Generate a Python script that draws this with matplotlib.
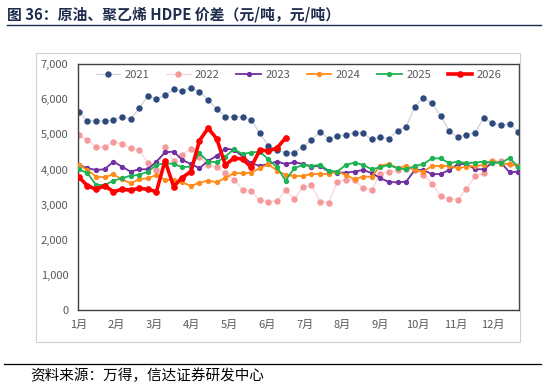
import numpy as np
import matplotlib.pyplot as plt
from matplotlib.lines import Line2D
from matplotlib.ticker import FuncFormatter

plt.rcParams['font.family'] = ['Noto Sans CJK SC', 'DejaVu Sans']

# weekly spread values, yuan/ton (52 weeks)
y2021 = [5640, 5375, 5390, 5375, 5410, 5505, 5430, 5745, 6095, 6010,
         6110, 6290, 6225, 6330, 6215, 5980, 5725, 5505, 5505, 5505,
         5410, 5035, 4680, 4550, 4485, 4485, 4650, 4835, 5070, 4880,
         4945, 4985, 5050, 5035, 4860, 4920, 4880, 5110, 5220, 5790,
         6045, 5885, 5525, 5100, 4920, 4995, 5050, 5470, 5325, 5260,
         5300, 5070]
y2022 = [4975, 4840, 4650, 4635, 4790, 4735, 4605, 4560, 4200, 3990,
         4655, 4250, 4420, 4600, 4350, 4120, 4080, 3900, 3710, 3430,
         3395, 3125, 3090, 3110, 3420, 3170, 3500, 3550, 3090, 3065,
         3660, 3710, 3710, 3470, 3420, 3890, 3940, 3980, 4020, 3990,
         3860, 3600, 3250, 3180, 3140, 3460, 3810, 3900, 4250, 4250,
         4150, 4100]
y2023 = [4134, 4039, 3991, 4011, 4228, 4086, 3944, 4011, 4011, 4228,
         4490, 4512, 4276, 4160, 4040, 4250, 4390, 4600, 4560, 4380,
         4181, 4105, 4162, 4228, 4162, 4209, 4162, 4086, 4105, 3944,
         3915, 3915, 3944, 3991, 3900, 3760, 3645, 3640, 3660, 3990,
         3990, 3870, 3877, 3990, 4160, 4160, 4011, 4011, 4200, 4200,
         3925, 3944]
y2024 = [4134, 3991, 3802, 3783, 3868, 3726, 3612, 3726, 3755, 3849,
         3710, 3707, 3640, 3535, 3630, 3690, 3640, 3760, 3900, 3900,
         3915, 4039, 4153, 3972, 3849, 3820, 3820, 3877, 3877, 3877,
         3944, 3849, 3726, 3802, 3800, 4115, 4160, 4040, 4110, 3990,
         3944, 4105, 4105, 4105, 4039, 4086, 4105, 4134, 4257, 4162,
         4162, 4105]
y2025 = [4011, 3897, 3565, 3565, 3688, 3755, 3830, 3849, 3944, 4134,
         4180, 4162, 4070, 4086, 4465, 4230, 4210, 4370, 4580, 4445,
         4484, 4512, 4295, 4067, 3688, 4039, 4134, 4105, 4134, 3972,
         3944, 4134, 4200, 4134, 4010, 4070, 4130, 4040, 4010, 4100,
         4160, 4320, 4320, 4180, 4230, 4180, 4200, 4228, 4200, 4200,
         4323, 4086]
y2026 = [3785, 3545, 3440, 3545, 3375, 3440, 3420, 3470, 3440, 3375,
         4255, 3520, 3775, 3945, 4825, 5175, 4880, 4135, 4325, 4305,
         4070, 4560, 4530, 4615, 4900]

months = ['1月', '2月', '3月', '4月', '5月', '6月', '7月', '8月', '9月', '10月', '11月', '12月']
yticks = [0, 1000, 2000, 3000, 4000, 5000, 6000, 7000]

fig = plt.figure(figsize=(5.46, 3.89), dpi=100)
ax = fig.add_axes([0.1429, 0.2018, 0.8077, 0.6337])

wk = np.arange(52)
ax.plot(wk, y2021, color='#cdd3dc', lw=0.9, marker='o', ms=3.6,
        mfc='#2e4a7d', mec='#2e4a7d', label='2021', zorder=2)
ax.plot(wk, y2022, color='#f7d6d7', lw=0.9, marker='o', ms=3.6,
        mfc='#f6999b', mec='#f6999b', label='2022', zorder=2)
ax.plot(wk, y2023, color='#7030a0', lw=1.3, marker='o', ms=2.8, label='2023', zorder=3)
ax.plot(wk, y2024, color='#ff8c1a', lw=1.3, marker='o', ms=2.8, label='2024', zorder=3)
ax.plot(wk, y2025, color='#1eb253', lw=1.3, marker='o', ms=2.8, label='2025', zorder=3)
ax.plot(wk[:len(y2026)], y2026, color='#ff0000', lw=2.6, marker='o', ms=3.8,
        label='2026', zorder=4)

ax.set_xlim(-0.1, 51.1)
ax.set_ylim(0, 7000)
ax.set_yticks(yticks)
ax.yaxis.set_major_formatter(FuncFormatter(lambda v, p: f'{int(v):,}'))
ax.set_xticks(np.arange(12) * 4.37)
ax.set_xticklabels(months)
ax.tick_params(length=0, labelsize=8, colors='#595959', pad=7)
for s in ax.spines.values():
    s.set_color('#404040')
    s.set_linewidth(1.0)

ax.legend(loc='upper center', bbox_to_anchor=(0.5, 1.015), ncol=6, frameon=False,
          fontsize=8, handlelength=2.2, columnspacing=1.5, handletextpad=0.4,
          labelcolor='#595959')

# chart box, title and rules
fig.add_artist(plt.Rectangle((36 / 546, 1 - 342 / 389), 484 / 546, 289 / 389,
                             transform=fig.transFigure, fill=False,
                             ec='#d0d0d0', lw=0.8))
fig.text(0.013, 1 - 15 / 389, '图 36：原油、聚乙烯 HDPE 价差（元/吨，元/吨）',
         fontsize=10.7, fontweight='bold', color='#1f2d4d', va='center')
fig.add_artist(Line2D([0.012, 0.99], [1 - 25 / 389] * 2, transform=fig.transFigure,
                      color='#1f2d4d', lw=1.0))
fig.add_artist(Line2D([0.008, 0.99], [1 - 364 / 389] * 2, transform=fig.transFigure,
                      color='black', lw=0.9))
fig.text(30 / 546, 1 - 376 / 389, '资料来源：万得，信达证券研发中心',
         fontsize=10.5, color='black', va='center', style='italic')

fig.savefig('out.png', dpi=100)
